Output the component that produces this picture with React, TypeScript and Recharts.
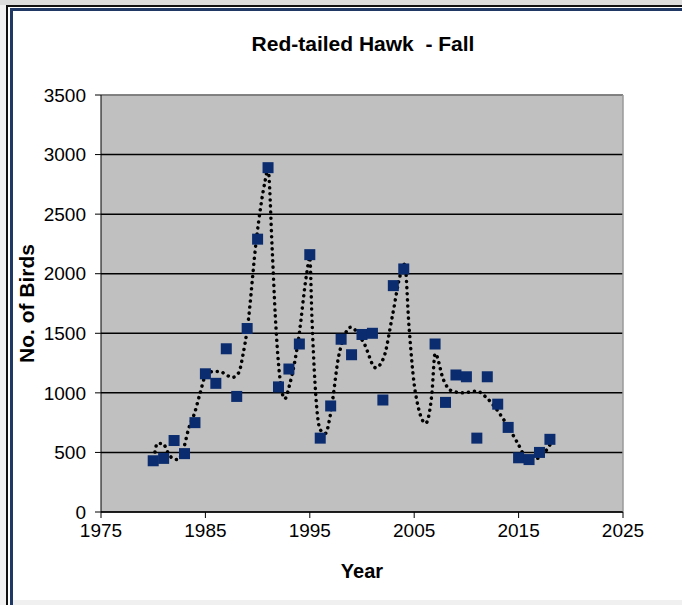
import {
  ComposedChart,
  Scatter,
  Line,
  XAxis,
  YAxis,
  CartesianGrid,
  ReferenceLine,
} from 'recharts';

// Observed counts per fall season
const years = [
  1980, 1981, 1982, 1983, 1984, 1985, 1986, 1987, 1988, 1989, 1990, 1991, 1992, 1993,
  1994, 1995, 1996, 1997, 1998, 1999, 2000, 2001, 2002, 2003, 2004, 2007, 2008, 2009,
  2010, 2011, 2012, 2013, 2014, 2015, 2016, 2017, 2018,
];
const birds = [
  430, 450, 600, 490, 750, 1160, 1080, 1370, 970, 1540, 2290, 2890, 1050, 1200,
  1410, 2160, 620, 890, 1450, 1320, 1490, 1500, 940, 1900, 2040, 1410, 920, 1150,
  1135, 620, 1135, 905, 710, 455, 440, 500, 610,
];

// Smoothed trend curve
const trendYears = [
  1980.0, 1980.4, 1980.9, 1981.6, 1982.3, 1982.8, 1983.4, 1984.0, 1984.5, 1985.1,
  1985.8, 1986.4, 1987.0, 1987.6, 1988.2, 1988.6, 1989.0, 1989.9, 1990.7, 1991.0,
  1991.4, 1991.7, 1992.2, 1992.6, 1993.1, 1993.9, 1994.7, 1995.0, 1995.2, 1995.5,
  1996.0, 1996.5, 1997.0, 1997.75, 1998.2, 1998.9, 2000.2, 2001.3, 2002.1, 2002.9,
  2003.7, 2004.1, 2004.5, 2005.1, 2006.1, 2006.7, 2007.0, 2007.8, 2008.5, 2009.7,
  2011.0, 2011.8, 2012.9, 2013.9, 2014.9, 2015.7, 2016.8, 2017.9, 2018.3,
];
const trendValues = [
  400, 575, 575, 470, 440, 500, 700, 840, 1000, 1160,
  1180, 1180, 1150, 1130, 1170, 1320, 1530, 2300, 2770, 2880,
  2200, 1640, 1080, 950, 1080, 1440, 2000, 2140, 1640, 1080,
  690, 660, 830, 1300, 1450, 1550, 1415, 1210, 1300, 1640,
  2000, 2080, 1560, 1010, 745, 1000, 1330, 1110, 1020, 1000,
  1015, 970, 860, 730, 580, 465, 450, 550, 610,
];

const xTicks = [1975, 1985, 1995, 2005, 2015, 2025];
const yTicks = [0, 500, 1000, 1500, 2000, 2500, 3000, 3500];

const points = years.map((year, i) => ({ year, birds: birds[i] }));
const trend = trendYears.map((year, i) => ({ year, trend: trendValues[i] }));

const FONT = '"Liberation Sans", Arial, sans-serif';

const Square = (props: any) => {
  const { cx, cy } = props;
  if (cx == null || cy == null) return null;
  return <rect x={cx - 5.5} y={cy - 5.5} width={11} height={11} fill="#0B2C6E" />;
};

export default function App() {
  return (
    <div style={{ position: 'absolute', left: 0, top: 0, width: 682, height: 605, background: '#fff', overflow: 'hidden' }}>
      {/* window frame */}
      <div style={{ position: 'absolute', left: 0, top: 0, width: 682, height: 5, background: '#dcdcdc' }} />
      <div style={{ position: 'absolute', left: 6, top: 5, width: 676, height: 2, background: '#111' }} />
      <div style={{ position: 'absolute', left: 10, top: 8, width: 672, height: 3, background: '#1F3864' }} />
      <div style={{ position: 'absolute', left: 0, top: 5, width: 6, height: 600, background: '#f2f2f2' }} />
      <div style={{ position: 'absolute', left: 6, top: 5, width: 2, height: 600, background: '#111' }} />
      <div style={{ position: 'absolute', left: 10, top: 8, width: 3, height: 597, background: '#1F3864' }} />
      <div style={{ position: 'absolute', left: 13, top: 600, width: 669, height: 5, background: '#f0f0f0' }} />

      <div
        style={{
          position: 'absolute',
          left: 0,
          top: 32,
          width: 726,
          textAlign: 'center',
          fontFamily: FONT,
          fontWeight: 'bold',
          fontSize: 21,
          color: '#000',
        }}
      >
        Red-tailed Hawk&nbsp; - Fall
      </div>

      <div style={{ position: 'absolute', left: 0, top: 0 }}>
        <ComposedChart
          width={682}
          height={605}
          margin={{ top: 95, right: 59, bottom: 53, left: 41 }}
          style={{ fontFamily: FONT }}
        >
          <CartesianGrid fill="#C0C0C0" stroke="#000" strokeWidth={1.5} vertical={false} />
          <ReferenceLine y={3500} stroke="#9a9a9a" strokeWidth={1.5} />
          <ReferenceLine x={2025} stroke="#9a9a9a" strokeWidth={1.5} />
          <XAxis
            type="number"
            dataKey="year"
            domain={[1975, 2025]}
            ticks={xTicks}
            interval={0}
            height={40}
            stroke="#000"
            tickSize={6}
            tickMargin={6}
            tick={{ fill: '#000', fontSize: 19 }}
            allowDataOverflow
            label={{ value: 'Year', position: 'insideBottom', offset: -26, fill: '#000', fontSize: 20, fontWeight: 'bold' }}
          />
          <YAxis
            type="number"
            domain={[0, 3500]}
            ticks={yTicks}
            interval={0}
            width={60}
            stroke="#000"
            tickSize={6}
            tickMargin={9}
            tick={{ fill: '#000', fontSize: 19 }}
            label={{ value: 'No. of Birds', angle: -90, position: 'insideLeft', offset: -14, fill: '#000', fontSize: 21, fontWeight: 'bold', style: { textAnchor: 'middle' } }}
          />
          <Scatter data={points} dataKey="birds" shape={Square} isAnimationActive={false} />
          <Line
            data={trend}
            dataKey="trend"
            type="monotone"
            stroke="#000"
            strokeWidth={3.5}
            strokeDasharray="0.1 6"
            strokeLinecap="round"
            dot={false}
            activeDot={false}
            isAnimationActive={false}
          />
        </ComposedChart>
      </div>
    </div>
  );
}
